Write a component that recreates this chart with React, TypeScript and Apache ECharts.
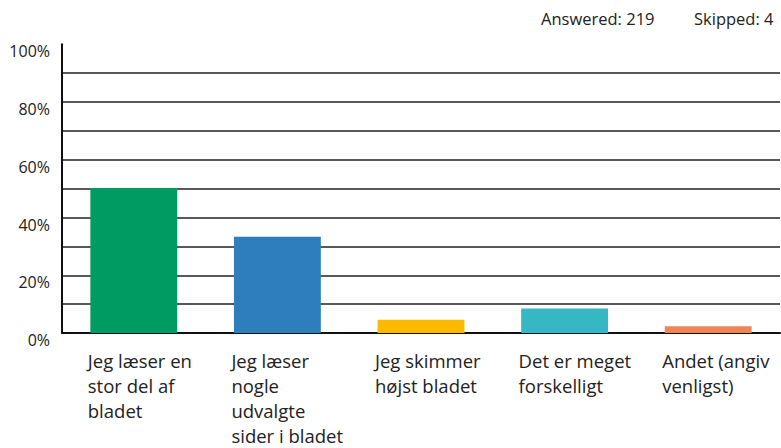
import React, { useEffect, useRef } from "react";
import * as echarts from "echarts";

const categories = [
  "Jeg læser en\nstor del af\nbladet",
  "Jeg læser\nnogle\nudvalgte\nsider i bladet",
  "Jeg skimmer\nhøjst bladet",
  "Det er meget\nforskelligt",
  "Andet (angiv\nvenligst)",
];
const values = [50.2, 33.3, 4.6, 8.5, 2.3];
const colors = ["#009a63", "#2e7ebd", "#fbba00", "#35b8c4", "#ef8654"];
const answeredText = "Answered: 219";
const skippedText = "Skipped: 4";

const FONT = "'Open Sans', 'Noto Sans', sans-serif";

export default function App() {
  const ref = useRef<HTMLDivElement>(null);
  useEffect(() => {
    if (!ref.current) return;
    const chart = echarts.init(ref.current, null, { renderer: "svg" });
    chart.setOption({
      animation: false,
      textStyle: { fontFamily: FONT },
      grid: { left: 62, right: 1, top: 44.3, bottom: 114.7, containLabel: false },
      graphic: [
        { type: "text", left: 541, top: 10, style: { text: answeredText, fontSize: 16.5, fontFamily: FONT, fill: "#222" } },
        { type: "text", left: 694, top: 10, style: { text: skippedText, fontSize: 16.5, fontFamily: FONT, fill: "#222" } },
      ],
      xAxis: {
        type: "category",
        data: categories,
        axisLine: { show: true, lineStyle: { color: "#111", width: 2 } },
        axisTick: { show: false },
        axisLabel: {
          interval: 0,
          align: "left",
          verticalAlign: "top",
          margin: 15,
          padding: [0, 0, 0, -46],
          fontSize: 18.5,
          lineHeight: 25,
          color: "#222",
          fontFamily: FONT,
        },
      },
      yAxis: {
        type: "value",
        min: 0,
        max: 100,
        interval: 10,
        axisLine: { show: true, lineStyle: { color: "#111", width: 2 } },
        axisTick: { show: false },
        splitLine: { show: true, showMaxLine: false, lineStyle: { color: "#222", width: 1.5 } },
        axisLabel: {
          margin: 12,
          fontSize: 16,
          color: "#222",
          fontFamily: FONT,
          verticalAlign: "top",
          lineHeight: 14,
          formatter: (v: number) => (v % 20 === 0 ? v + "%" : ""),
        },
      },
      series: [
        {
          type: "bar",
          barWidth: "60.5%",
          data: values.map((v, i) => ({ value: v, itemStyle: { color: colors[i] } })),
        },
      ],
    });
    return () => chart.dispose();
  }, []);
  return <div ref={ref} style={{ width: 781, height: 448, position: "absolute", left: 0, top: 0 }} />;
}
